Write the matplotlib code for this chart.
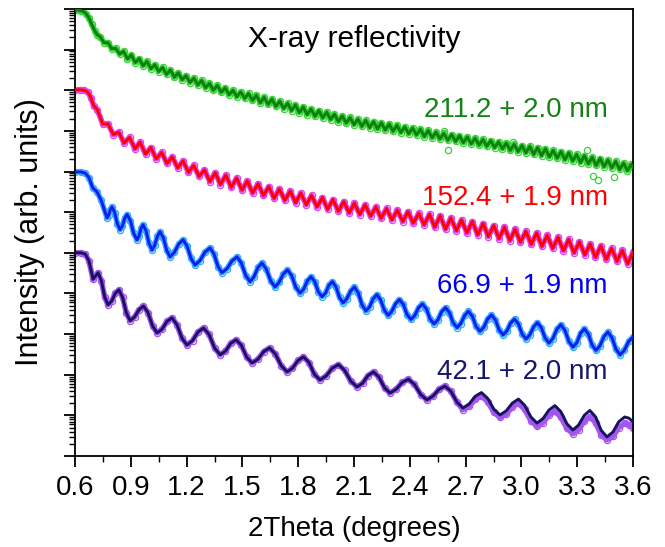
import matplotlib.pyplot as plt
import numpy as np
from matplotlib.ticker import MultipleLocator, LogLocator, NullFormatter

plt.rcParams['font.family'] = ['Liberation Sans', 'DejaVu Sans']

# 2Theta (degrees) and log10(intensity)
green_x = [0.600, 0.615, 0.630, 0.645, 0.660, 0.675, 0.690, 0.705, 0.720,
           0.735, 0.756, 0.777, 0.798, 0.819, 0.840, 0.861, 0.882, 0.903, 0.924,
           0.945, 0.966, 0.987, 1.008, 1.029, 1.050, 1.071, 1.092, 1.113, 1.134,
           1.155, 1.176, 1.197, 1.218, 1.239, 1.260, 1.281, 1.302, 1.323, 1.344,
           1.365, 1.386, 1.407, 1.428, 1.449, 1.470, 1.491, 1.512, 1.533, 1.554,
           1.575, 1.596, 1.617, 1.638, 1.659, 1.680, 1.701, 1.722, 1.743, 1.764,
           1.785, 1.806, 1.827, 1.848, 1.869, 1.890, 1.911, 1.932, 1.953, 1.974,
           1.995, 2.016, 2.037, 2.058, 2.079, 2.100, 2.121, 2.142, 2.163, 2.184,
           2.205, 2.226, 2.247, 2.268, 2.289, 2.310, 2.331, 2.352, 2.373, 2.394,
           2.415, 2.436, 2.457, 2.478, 2.499, 2.520, 2.541, 2.562, 2.583, 2.604,
           2.625, 2.646, 2.667, 2.688, 2.709, 2.730, 2.751, 2.772, 2.793, 2.814,
           2.835, 2.856, 2.877, 2.898, 2.919, 2.940, 2.961, 2.982, 3.003, 3.024,
           3.045, 3.066, 3.087, 3.108, 3.129, 3.150, 3.171, 3.192, 3.213, 3.234,
           3.255, 3.276, 3.297, 3.318, 3.339, 3.360, 3.381, 3.402, 3.423, 3.444,
           3.465, 3.486, 3.507, 3.528, 3.549, 3.570, 3.591, 3.600]
green_logI = [10.97, 10.97, 10.96, 10.94, 10.88, 10.78, 10.62, 10.47, 10.36,
              10.32, 10.17, 10.17, 10.02, 10.03, 9.89, 9.96, 9.77, 9.87, 9.68,
              9.78, 9.60, 9.71, 9.53, 9.63, 9.46, 9.56, 9.39, 9.50, 9.32,
              9.43, 9.26, 9.36, 9.19, 9.30, 9.13, 9.24, 9.06, 9.17, 9.00,
              9.12, 8.95, 9.06, 8.89, 9.00, 8.84, 8.96, 8.80, 8.92, 8.75,
              8.88, 8.69, 8.83, 8.65, 8.78, 8.60, 8.73, 8.55, 8.68, 8.50,
              8.64, 8.45, 8.59, 8.40, 8.54, 8.36, 8.50, 8.32, 8.46, 8.28,
              8.41, 8.23, 8.37, 8.19, 8.33, 8.15, 8.29, 8.11, 8.26, 8.08,
              8.23, 8.05, 8.20, 8.02, 8.17, 7.99, 8.14, 7.96, 8.10, 7.93,
              8.07, 7.90, 8.04, 7.86, 8.01, 7.83, 7.97, 7.80, 7.94, 7.77,
              7.91, 7.74, 7.88, 7.71, 7.85, 7.68, 7.82, 7.65, 7.79, 7.62,
              7.76, 7.59, 7.73, 7.56, 7.70, 7.52, 7.67, 7.49, 7.64, 7.46,
              7.62, 7.42, 7.59, 7.39, 7.56, 7.36, 7.52, 7.33, 7.49, 7.29,
              7.46, 7.26, 7.42, 7.22, 7.39, 7.19, 7.35, 7.15, 7.32, 7.12,
              7.28, 7.09, 7.25, 7.05, 7.21, 7.02, 7.18, 7.10]
green_out_x = [2.585, 2.605, 2.955, 3.352, 3.384, 3.411, 3.498]
green_out_logI = [8.00, 7.52, 7.72, 7.52, 6.90, 6.80, 6.86]

red_x = [0.600, 0.625, 0.650, 0.670, 0.685, 0.700,
         0.720, 0.749, 0.778, 0.806, 0.835, 0.864, 0.893, 0.922, 0.950, 0.979,
         1.008, 1.037, 1.066, 1.094, 1.123, 1.152, 1.181, 1.210, 1.238, 1.267,
         1.296, 1.325, 1.354, 1.382, 1.411, 1.440, 1.469, 1.498, 1.526, 1.555,
         1.584, 1.613, 1.642, 1.670, 1.699, 1.728, 1.757, 1.786, 1.814, 1.843,
         1.872, 1.901, 1.930, 1.958, 1.987, 2.016, 2.045, 2.074, 2.102, 2.131,
         2.160, 2.189, 2.218, 2.246, 2.275, 2.304, 2.333, 2.362, 2.390, 2.419,
         2.448, 2.477, 2.506, 2.534, 2.563, 2.592, 2.621, 2.650, 2.678, 2.707,
         2.736, 2.765, 2.794, 2.822, 2.851, 2.880, 2.909, 2.938, 2.966, 2.995,
         3.024, 3.053, 3.082, 3.110, 3.139, 3.168, 3.197, 3.226, 3.254, 3.283,
         3.312, 3.341, 3.370, 3.398, 3.427, 3.456, 3.485, 3.514, 3.542, 3.571,
         3.600]
red_logI = [9.01, 9.01, 9.00, 8.95, 8.82, 8.62,
            8.52, 8.17, 8.17, 7.91, 7.97, 7.70, 7.84, 7.56, 7.72, 7.43,
            7.59, 7.31, 7.47, 7.20, 7.36, 7.09, 7.26, 6.98, 7.15, 6.88,
            7.04, 6.75, 6.97, 6.68, 6.91, 6.61, 6.84, 6.54, 6.77, 6.47,
            6.70, 6.41, 6.63, 6.34, 6.57, 6.29, 6.52, 6.23, 6.47, 6.18,
            6.41, 6.13, 6.36, 6.07, 6.31, 6.02, 6.26, 5.98, 6.22, 5.94,
            6.18, 5.90, 6.13, 5.85, 6.09, 5.81, 6.05, 5.77, 6.01, 5.73,
            5.97, 5.69, 5.95, 5.63, 5.91, 5.58, 5.86, 5.54, 5.81, 5.49,
            5.77, 5.44, 5.72, 5.40, 5.67, 5.35, 5.63, 5.30, 5.58, 5.26,
            5.53, 5.21, 5.49, 5.16, 5.43, 5.11, 5.38, 5.05, 5.33, 5.00,
            5.27, 4.95, 5.22, 4.89, 5.17, 4.84, 5.11, 4.79, 5.06, 4.73,
            5.01]

blue_x = [0.600, 0.630, 0.655, 0.675, 0.695, 0.718, 0.740,
          0.772, 0.781, 0.790, 0.799, 0.813, 0.828, 0.842, 0.855, 0.867, 0.880,
          0.898, 0.915, 0.933, 0.944, 0.955, 0.966, 0.982, 0.998, 1.014, 1.028,
          1.043, 1.057, 1.075, 1.093, 1.111, 1.134, 1.158, 1.181, 1.202, 1.224,
          1.245, 1.272, 1.299, 1.326, 1.347, 1.369, 1.390, 1.417, 1.444, 1.471,
          1.494, 1.518, 1.541, 1.562, 1.584, 1.605, 1.628, 1.652, 1.675, 1.697,
          1.720, 1.742, 1.765, 1.787, 1.810, 1.830, 1.849, 1.869, 1.889, 1.908,
          1.928, 1.947, 1.965, 1.984, 2.003, 2.022, 2.041, 2.061, 2.082, 2.102,
          2.123, 2.143, 2.164, 2.184, 2.203, 2.223, 2.243, 2.263, 2.283, 2.303,
          2.324, 2.344, 2.365, 2.385, 2.406, 2.427, 2.447, 2.468, 2.489, 2.509,
          2.530, 2.551, 2.571, 2.592, 2.613, 2.633, 2.654, 2.674, 2.695, 2.715,
          2.736, 2.756, 2.777, 2.798, 2.818, 2.839, 2.860, 2.880, 2.901, 2.922,
          2.942, 2.963, 2.984, 3.004, 3.025, 3.045, 3.066, 3.086, 3.107, 3.127,
          3.148, 3.169, 3.191, 3.212, 3.234, 3.255, 3.277, 3.298, 3.318, 3.339,
          3.360, 3.380, 3.401, 3.422, 3.444, 3.465, 3.487, 3.508, 3.530, 3.553,
          3.577, 3.600]
blue_logI = [6.99, 6.99, 6.96, 6.85, 6.60, 6.50, 6.30,
             5.86, 5.93, 6.06, 6.13, 5.99, 5.71, 5.57, 5.66, 5.85, 5.94,
             5.79, 5.48, 5.32, 5.41, 5.60, 5.69, 5.54, 5.23, 5.07, 5.18,
             5.41, 5.52, 5.37, 5.06, 4.90, 5.01, 5.22, 5.32, 5.17, 4.86,
             4.70, 4.81, 5.02, 5.12, 4.97, 4.66, 4.51, 4.61, 4.80, 4.90,
             4.75, 4.44, 4.29, 4.41, 4.64, 4.75, 4.60, 4.31, 4.16, 4.27,
             4.48, 4.58, 4.44, 4.15, 4.01, 4.11, 4.31, 4.41, 4.29, 4.04,
             3.92, 4.01, 4.20, 4.29, 4.16, 3.90, 3.77, 3.87, 4.06, 4.16,
             4.01, 3.72, 3.57, 3.67, 3.87, 3.97, 3.84, 3.59, 3.46, 3.56,
             3.75, 3.85, 3.73, 3.48, 3.36, 3.46, 3.65, 3.74, 3.62, 3.37,
             3.25, 3.35, 3.55, 3.65, 3.53, 3.28, 3.16, 3.26, 3.46, 3.56,
             3.44, 3.19, 3.07, 3.17, 3.37, 3.47, 3.35, 3.10, 2.98, 3.08,
             3.27, 3.37, 3.25, 3.00, 2.88, 2.98, 3.18, 3.28, 3.16, 2.91,
             2.78, 2.89, 3.12, 3.23, 3.09, 2.82, 2.68, 2.79, 3.02, 3.13,
             3.00, 2.73, 2.60, 2.71, 2.94, 3.05, 2.91, 2.63, 2.49, 2.60,
             2.82, 2.93]

navy_x = [0.600, 0.630, 0.655, 0.675, 0.697, 0.724,
          0.742, 0.759, 0.777, 0.797, 0.816, 0.836, 0.856, 0.876, 0.896,
          0.920, 0.944, 0.968, 0.992, 1.017, 1.041, 1.068, 1.094, 1.121,
          1.148, 1.175, 1.202, 1.232, 1.261, 1.291, 1.321, 1.350, 1.380,
          1.409, 1.437, 1.466, 1.495, 1.523, 1.552, 1.583, 1.615, 1.646,
          1.677, 1.709, 1.740, 1.769, 1.799, 1.828, 1.858, 1.887, 1.917,
          1.950, 1.983, 2.016, 2.049, 2.083, 2.116, 2.146, 2.175, 2.205,
          2.234, 2.264, 2.293, 2.326, 2.359, 2.392, 2.425, 2.459, 2.492,
          2.524, 2.557, 2.589, 2.621, 2.654, 2.686, 2.719, 2.752, 2.785,
          2.818, 2.852, 2.885, 2.918, 2.951, 2.984, 3.017, 3.051, 3.084,
          3.116, 3.148, 3.180, 3.212, 3.245, 3.277, 3.307, 3.338, 3.368,
          3.399, 3.429, 3.460, 3.492, 3.523, 3.555, 3.578, 3.600]
navy_logI = [5.00, 5.00, 4.97, 4.80, 4.35, 4.51,
             4.31, 3.92, 3.72, 3.81, 4.00, 4.09, 3.90, 3.52, 3.33,
             3.42, 3.60, 3.69, 3.53, 3.20, 3.03, 3.12, 3.31, 3.40,
             3.23, 2.90, 2.73, 2.84, 3.05, 3.15, 2.99, 2.66, 2.49,
             2.58, 2.77, 2.86, 2.72, 2.43, 2.29, 2.38, 2.57, 2.66,
             2.51, 2.22, 2.07, 2.16, 2.35, 2.44, 2.30, 2.01, 1.87,
             1.97, 2.16, 2.25, 2.11, 1.84, 1.70, 1.79, 1.98, 2.07,
             1.94, 1.68, 1.55, 1.64, 1.81, 1.89, 1.76, 1.51, 1.38,
             1.47, 1.64, 1.72, 1.59, 1.32, 1.18, 1.28, 1.47, 1.56,
             1.42, 1.15, 1.01, 1.11, 1.30, 1.40, 1.25, 0.96, 0.81,
             0.92, 1.13, 1.24, 1.09, 0.79, 0.64, 0.76, 1.00, 1.12,
             0.96, 0.63, 0.47, 0.59, 0.84, 0.96, 0.93, 0.84]
# measured points of the thinnest film sit a little below the fit from 2.686 deg on
navy_tail_logI = [1.14, 1.22, 1.40, 1.48, 1.34, 1.08, 0.95, 1.03, 1.21, 1.30,
                  1.15, 0.87, 0.73, 0.82, 1.01, 1.10, 0.96, 0.68, 0.55, 0.64,
                  0.86, 0.97, 0.82, 0.52, 0.40, 0.48, 0.70, 0.80, 0.77, 0.70]
navy_data_logI = navy_logI[:74] + navy_tail_logI

labels = ["211.2 + 2.0 nm", "152.4 + 1.9 nm", "66.9 + 1.9 nm", "42.1 + 2.0 nm"]
label_y = [0.758, 0.5615, 0.3647, 0.172]
data_colors = ["#3ad33a", "#dd44ee", "#3aa8ff", "#a455f0"]
fit_colors = ["#0c7f0c", "#ff0000", "#0a1ef0", "#16125e"]
label_colors = ["#138413", "#ff0000", "#0000f0", "#16166e"]

fig = plt.figure(figsize=(6.65, 5.47), dpi=100)
ax = fig.add_axes([0.1128, 0.1664, 0.8391, 0.8172])

series = [(green_x, green_logI, green_logI),
          (red_x, red_logI, red_logI),
          (blue_x, blue_logI, blue_logI),
          (navy_x, navy_logI, navy_data_logI)]

for (x, fit, data), dc, fc in zip(series, data_colors, fit_colors):
    x = np.array(x)
    yd = 10 ** np.array(data)
    yf = 10 ** np.array(fit)
    ax.plot(x, yd, color=dc, lw=4.0, solid_joinstyle='round', zorder=2)
    ax.plot(x, yd, 'o', mfc='none', mec=dc, ms=4.5, mew=0.9, zorder=2)
    ax.plot(x, yf, color=fc, lw=2.1, solid_joinstyle='round', zorder=3)

ax.plot(green_out_x, 10 ** np.array(green_out_logI), 'o', mfc='none',
        mec=data_colors[0], ms=4.5, mew=0.9, zorder=2)

for text, yy, c in zip(labels, label_y, label_colors):
    ax.text(0.955, yy, text, transform=ax.transAxes, ha='right', va='baseline',
            fontsize=20, color=c)

ax.text(0.5, 0.915, "X-ray reflectivity", transform=ax.transAxes,
        ha='center', va='baseline', fontsize=21.5)

ax.set_yscale('log')
ax.set_ylim(1, 1e11)
ax.set_xlim(0.6, 3.6)
ax.xaxis.set_major_locator(MultipleLocator(0.3))
ax.xaxis.set_minor_locator(MultipleLocator(0.15))
ax.xaxis.set_major_formatter(plt.FuncFormatter(lambda v, p: f"{v:.1f}"))
ax.yaxis.set_major_locator(LogLocator(base=10, numticks=20))
ax.yaxis.set_minor_locator(LogLocator(base=10, subs=np.arange(2, 10), numticks=20))
ax.yaxis.set_major_formatter(NullFormatter())
ax.yaxis.set_minor_formatter(NullFormatter())

ax.tick_params(which='major', direction='out', length=8, width=1.3,
               labelsize=20, pad=6, top=False, right=False)
ax.tick_params(which='minor', direction='out', length=4.5, width=1.0,
               top=False, right=False)
for s in ax.spines.values():
    s.set_linewidth(1.3)

ax.set_xlabel("2Theta (degrees)", fontsize=20)
ax.xaxis.set_label_coords(0.5, -0.135)
ax.set_ylabel("Intensity (arb. units)", fontsize=22)
ax.yaxis.set_label_coords(-0.054, 0.5)

fig.savefig("out.png", dpi=100)
